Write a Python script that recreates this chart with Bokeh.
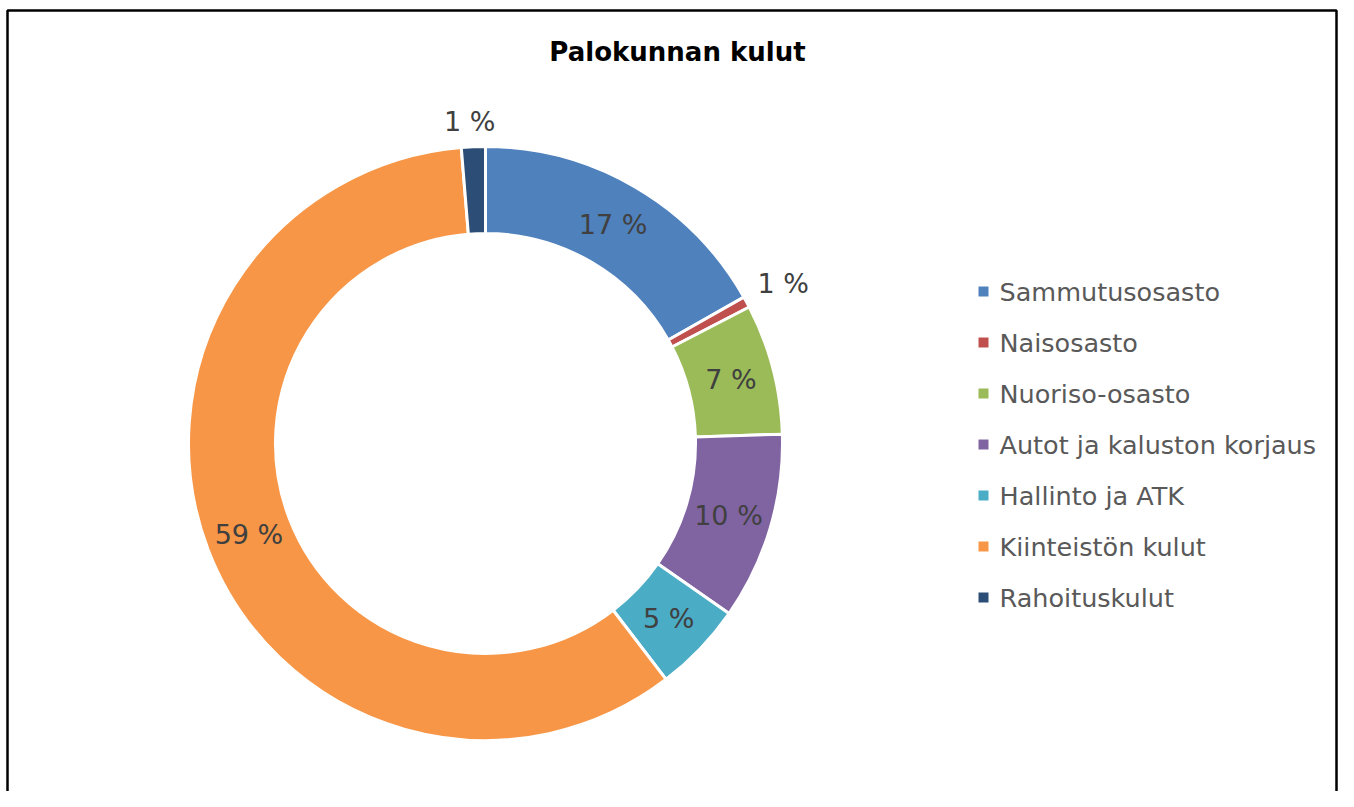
import numpy as np
from bokeh.plotting import figure
from bokeh.models import Range1d, ColumnDataSource
from bokeh.core.properties import value
from bokeh.embed import file_html
from bokeh.resources import INLINE

# ---- data ----
categories = ["Sammutusosasto", "Naisosasto", "Nuoriso-osasto",
              "Autot ja kaluston korjaus", "Hallinto ja ATK",
              "Kiinteistön kulut", "Rahoituskulut"]
shares = [16.8, 0.6, 7.1, 10.2, 4.9, 59.1, 1.3]
colors = ["#4F81BD", "#C0504D", "#9BBB59", "#8064A2", "#4BACC6", "#F79646", "#2C4D75"]
title_text = "Palokunnan kulut"

# ---- layout (pixel-like coordinates, y = -screen_y) ----
W, H = 1338, 791
cx, cy = 485, -443
r_in, r_out = 210, 297

p = figure(width=W, height=H, output_backend="svg", toolbar_location=None,
           x_range=Range1d(0, W), y_range=Range1d(-H, 0),
           x_axis_type=None, y_axis_type=None, min_border=0)
p.grid.visible = False
p.outline_line_color = None
p.background_fill_color = "white"
p.border_fill_color = "white"

# chart-area border
p.quad(left=[7], right=[1336], top=[-10], bottom=[-H - 20],
       fill_color=None, line_color="black", line_width=2.5)

vals = np.array(shares, dtype=float)
frac = vals / vals.sum()
cum = np.concatenate([[0], np.cumsum(frac)])
start = np.pi / 2 - 2 * np.pi * cum[:-1]
end = np.pi / 2 - 2 * np.pi * cum[1:]

src = ColumnDataSource(dict(start=start, end=end, color=colors, cat=categories))
p.annular_wedge(x=cx, y=cy, inner_radius=r_in, outer_radius=r_out,
                start_angle="start", end_angle="end", direction="clock",
                fill_color="color", line_color="white", line_width=3, source=src)

# ---- data labels ----
mid = 2 * np.pi * (cum[:-1] + frac / 2)  # clockwise from top
lx, ly, lt = [], [], []
for i, f in enumerate(frac):
    s, c = np.sin(mid[i]), np.cos(mid[i])
    txt = f"{max(1, int(round(vals[i])))} %"
    if vals[i] < 2:
        ax = cx + (r_out + 12) * s
        ay = cy + (r_out + 12) * c
        w, h = 52, 26
        x = ax + w / 2 * np.clip(s * 3, -1, 1)
        y = ay + h / 2 * np.clip(c * 3, -1, 1)
    else:
        rm = (r_in + r_out) / 2
        x = cx + rm * s
        y = cy + rm * c
    lx.append(x); ly.append(y); lt.append(txt)

p.text(x=lx, y=ly, text=lt, text_align="center", text_baseline="middle",
       text_font=value("DejaVu Sans"), text_font_size="27px", text_color="#404040")

# ---- title ----
p.text(x=[677], y=[-51], text=[title_text], text_align="center",
       text_baseline="middle", text_font=value("DejaVu Sans"),
       text_font_size="26px", text_font_style="bold", text_color="black")

# ---- legend ----
leg_y = [-(291 + 51 * i) for i in range(len(categories))]
p.scatter(x=[983] * len(categories), y=leg_y, marker="square", size=10,
          fill_color=colors, line_color=None)
p.text(x=[999] * len(categories), y=leg_y, text=categories,
       text_align="left", text_baseline="middle",
       text_font=value("DejaVu Sans"), text_font_size="25.5px", text_color="#595959")

open("out.html", "w").write(file_html(p, INLINE))
